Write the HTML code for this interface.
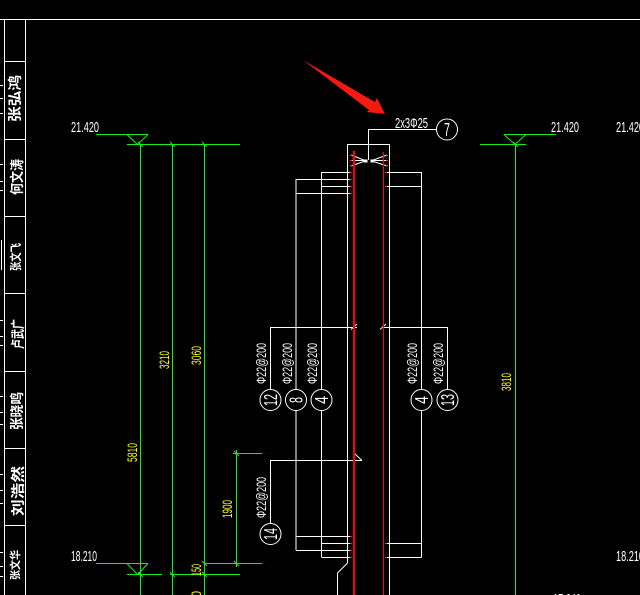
<!DOCTYPE html>
<html>
<head>
<meta charset="utf-8">
<style>
html,body{margin:0;padding:0;background:#000;width:640px;height:595px;overflow:hidden}
svg{display:block}
.w{stroke:#fff;stroke-width:1;fill:none}
.g{stroke:#14f014;stroke-width:1;fill:none}
.c{stroke:#fff;stroke-width:1;fill:#000}
text{font-family:"Liberation Sans","Noto Sans CJK SC",sans-serif}
.t{fill:#fff;font-size:15px}
.y{fill:#ff0;font-size:14px}
.r{fill:#fff;font-size:14px}
.n{fill:#fff;font-size:18px}
.s{fill:#fff;font-size:14px;font-weight:bold;font-family:"Noto Sans CJK SC",sans-serif}
</style>
</head>
<body>
<svg width="640" height="595" viewBox="0 0 640 595" xmlns="http://www.w3.org/2000/svg">
<rect width="640" height="595" fill="#000"/>

<!-- frame -->
<g shape-rendering="crispEdges">
<path class="w" d="M0 19.5H640M4.5 19.5V595M25.5 19.5V595M4 61.5H25M4 139.5H25M4 216.5H25M4 293.5H25M4 371.5H25M4 448.5H25M4 525.5H25"/>
<path class="w" d="M0 85.5H3M0 98.5H3M0 113.5H3M0 164.5H3M0 181.5H3M0 190.5H3M1.5 240V270M0 320.5H3M0 336.5H3M0 345.5H3M0 396.5H3M0 412.5H3M0 424.5H3M0 474.5H3M0 490.5H3M0 503.5H3M0 552.5H3M0 566.5H3M0 576.5H3"/>
</g>

<!-- signature column -->
<g class="s">
<text transform="translate(20,122) rotate(-90)" textLength="47" lengthAdjust="spacingAndGlyphs">张弘鸿</text>
<text transform="translate(22,195) rotate(-90)" textLength="36" lengthAdjust="spacingAndGlyphs">何文涛</text>
<text transform="translate(20,271) rotate(-90)" font-size="12" textLength="28" lengthAdjust="spacingAndGlyphs">张文飞</text>
<text transform="translate(23,349) rotate(-90)" textLength="30" lengthAdjust="spacingAndGlyphs">卢武广</text>
<text transform="translate(22,430) rotate(-90)" textLength="38" lengthAdjust="spacingAndGlyphs">张晓鸣</text>
<text transform="translate(23,516) rotate(-90)" textLength="50" lengthAdjust="spacingAndGlyphs">刘浩然</text>
<text transform="translate(19,580) rotate(-90)" font-size="11" textLength="30" lengthAdjust="spacingAndGlyphs">张文华</text>
</g>

<!-- green dims -->
<g shape-rendering="crispEdges">
<path class="g" d="M96 134.5H148M127 144.5H240M140.5 144V595M172.5 144V595M204.5 144V595"/>
<path class="g" d="M504 134.5H556M480 144.5H526M515.5 144V595"/>
<path class="g" d="M96 563.5H148M127 574.5H162M170 574.5H240M204 563.5H262M233 453.5H262M236.5 450V567"/>
</g>
<path d="M127 134.5L137.5 144.5L148 134.5M504 134.5L515 144.5L526 134.5M127 563.5L137.5 574.5L148 563.5" stroke="#14f014" stroke-width="1" fill="none"/>
<path d="M138 142l5 5M170 142l5 5M202 142l5 5M513 142l5 5M138 572l5 5M170 572l5 5M202 572l5 5M202 561l5 5M234 561l5 5M234 451l5 5" stroke="#14f014" stroke-width="1" fill="none"/>

<!-- white structure -->
<g shape-rendering="crispEdges">
<path class="w" d="M347.5 563V144.5H389.5V595"/>
<path class="w" d="M368.5 160V129.5H437"/>
<path class="w" d="M322 172.5H352M296 179.5H352M322 186.5H352M296 193.5H352M386 172.5H421.5M386 186.5H421.5"/>
<path class="w" d="M296 179V550.5M321.5 172V557.5M421.5 172V557.5"/>
<path class="w" d="M270.5 389V327.5H357M384 327.5H447.5V389"/>
<path class="w" d="M270.5 523V460.5H362"/>
<path class="w" d="M296 536.5H352M322 543.5H352M296 550.5H352M322 557.5H352M386 543.5H421.5M386 557.5H421.5"/>
<path class="w" d="M337.5 573V595"/>
</g>
<path class="w" d="M347.5 563L337.5 573M351 329.5L357 324M380 329.5L386 324M355 454L362 460.5"/>
<path d="M351 155L365 160.5L351 160.5M351 166L365 161M387 155L372 160.5L387 160.5M387 166L372 161" stroke="#fff" stroke-width="1" fill="none"/>
<rect x="364" y="159.5" width="3.5" height="3" fill="#fff"/>
<rect x="370.5" y="159.5" width="3.5" height="3" fill="#fff"/>

<!-- red -->
<g shape-rendering="crispEdges">
<rect x="353" y="151" width="2" height="444" fill="#f00"/>
<rect x="383" y="152" width="1" height="443" fill="#f00"/>
<path d="M350 155.5h2M350 160.5h2M350 165.5h2M386 155.5h2M386 160.5h2M386 165.5h2M350 172.5h2M350 179.5h2M350 186.5h2M350 193.5h2M385 172.5h2M385 186.5h2M350 536.5h2M350 543.5h2M350 550.5h2M350 557.5h2M385 543.5h2M385 557.5h2" stroke="#f22" stroke-width="1" fill="none"/>
</g>

<!-- arrow -->
<polygon points="303,60 375,102 377,98 385,114 367,112 369,110" fill="#f41a12"/>

<!-- circles -->
<g>
<circle class="c" cx="447" cy="129.5" r="10.5"/>
<circle class="c" cx="270.5" cy="400" r="10.5"/>
<circle class="c" cx="296" cy="400" r="10.5"/>
<circle class="c" cx="321.5" cy="400" r="10.5"/>
<circle class="c" cx="421.5" cy="400" r="10.5"/>
<circle class="c" cx="447.5" cy="400" r="10.5"/>
<circle class="c" cx="270.5" cy="534" r="10.5"/>
</g>
<text class="n" x="444" y="136" textLength="6" lengthAdjust="spacingAndGlyphs">7</text>
<text class="n" transform="translate(277,406) rotate(-90)" textLength="12" lengthAdjust="spacingAndGlyphs">12</text>
<text class="n" transform="translate(302.5,403) rotate(-90)" textLength="6" lengthAdjust="spacingAndGlyphs">8</text>
<text class="n" transform="translate(328,404) rotate(-90)" textLength="8" lengthAdjust="spacingAndGlyphs">4</text>
<text class="n" transform="translate(428,404) rotate(-90)" textLength="8" lengthAdjust="spacingAndGlyphs">4</text>
<text class="n" transform="translate(454,406) rotate(-90)" textLength="12" lengthAdjust="spacingAndGlyphs">13</text>
<text class="n" transform="translate(277,540) rotate(-90)" textLength="12" lengthAdjust="spacingAndGlyphs">14</text>

<!-- white labels -->
<text class="t" x="395" y="128" textLength="33" lengthAdjust="spacingAndGlyphs">2x3Φ25</text>
<text class="t" x="71" y="132" textLength="28" lengthAdjust="spacingAndGlyphs">21.420</text>
<text class="t" x="551" y="132" textLength="28" lengthAdjust="spacingAndGlyphs">21.420</text>
<text class="t" x="616" y="132" textLength="28" lengthAdjust="spacingAndGlyphs">21.420</text>
<text class="t" x="71" y="561" textLength="26" lengthAdjust="spacingAndGlyphs">18.210</text>
<text class="t" x="616" y="561" textLength="28" lengthAdjust="spacingAndGlyphs">18.210</text>
<text class="t" x="553" y="604" textLength="28" lengthAdjust="spacingAndGlyphs">17.640</text>

<text class="r" transform="translate(266,384) rotate(-90)" textLength="41" lengthAdjust="spacingAndGlyphs">Φ22@200</text>
<text class="r" transform="translate(292,384) rotate(-90)" textLength="41" lengthAdjust="spacingAndGlyphs">Φ22@200</text>
<text class="r" transform="translate(317,384) rotate(-90)" textLength="41" lengthAdjust="spacingAndGlyphs">Φ22@200</text>
<text class="r" transform="translate(417,384) rotate(-90)" textLength="41" lengthAdjust="spacingAndGlyphs">Φ22@200</text>
<text class="r" transform="translate(443,384) rotate(-90)" textLength="41" lengthAdjust="spacingAndGlyphs">Φ22@200</text>
<text class="r" transform="translate(266,518) rotate(-90)" textLength="41" lengthAdjust="spacingAndGlyphs">Φ22@200</text>

<!-- yellow dims -->
<text class="y" transform="translate(137,462) rotate(-90)" textLength="19" lengthAdjust="spacingAndGlyphs">5810</text>
<text class="y" transform="translate(169,369) rotate(-90)" textLength="18" lengthAdjust="spacingAndGlyphs">3210</text>
<text class="y" transform="translate(201,365) rotate(-90)" textLength="19" lengthAdjust="spacingAndGlyphs">3060</text>
<text class="y" transform="translate(232,518) rotate(-90)" textLength="18" lengthAdjust="spacingAndGlyphs">1900</text>
<text class="y" transform="translate(201,576) rotate(-90)" textLength="12" lengthAdjust="spacingAndGlyphs">150</text>
<text class="y" transform="translate(201,597) rotate(-90)" textLength="6" lengthAdjust="spacingAndGlyphs">0</text>
<text class="y" transform="translate(511,391) rotate(-90)" textLength="18" lengthAdjust="spacingAndGlyphs">3810</text>
</svg>
</body>
</html>
